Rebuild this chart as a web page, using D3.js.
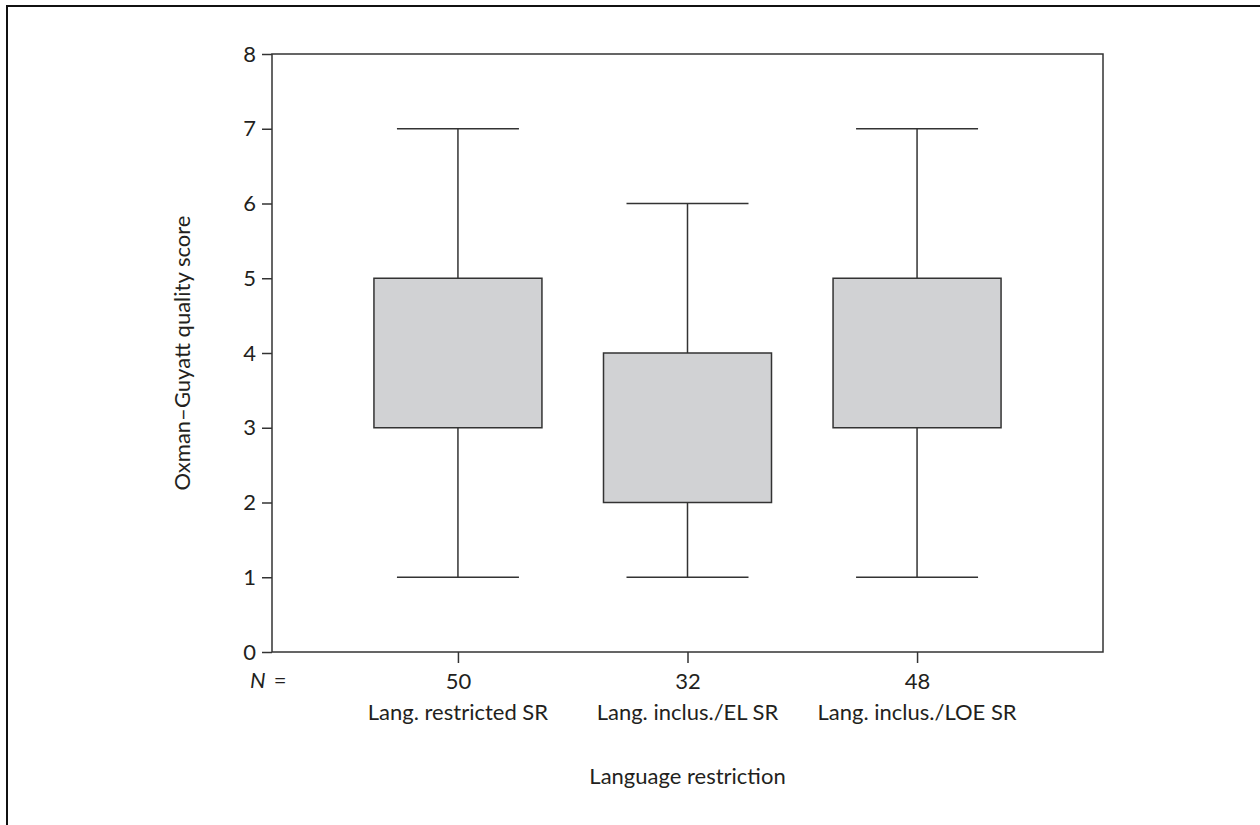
<!DOCTYPE html>
<html>
<head>
<meta charset="utf-8">
<script src="https://cdn.jsdelivr.net/npm/d3@7"></script>
<style>
  body { margin: 0; background: #fff; }
  text { font-family: Lato, "Open Sans", sans-serif; fill: #231f20; }
</style>
</head>
<body>
<div class="canvas"></div>
<script>
// data
const groups = ["Lang. restricted SR", "Lang. inclus./EL SR", "Lang. inclus./LOE SR"];
const counts = [50, 32, 48];
const mins = [1, 1, 1];
const q1s = [3, 2, 3];
const q3s = [5, 4, 5];
const maxs = [7, 6, 7];
const yTicks = [0, 1, 2, 3, 4, 5, 6, 7, 8];

const width = 1260, height = 825;
const margin = { top: 54, right: 157, bottom: 173, left: 272 };
const graphWidth = width - margin.left - margin.right;
const graphHeight = height - margin.top - margin.bottom;
const fontSize = "22px";

const svg = d3.select(".canvas")
  .append("svg")
  .attr("width", width)
  .attr("height", height);

// outer frame (top + left only)
svg.append("path")
  .attr("d", `M7,${height} V6 H${width}`)
  .attr("fill", "none")
  .attr("stroke", "#111")
  .attr("stroke-width", 2);

const graph = svg.append("g")
  .attr("transform", `translate(${margin.left}, ${margin.top})`);

const x = d3.scalePoint().domain(groups).range([0, graphWidth]).padding(0.81);
const y = d3.scaleLinear().domain([0, 8]).range([graphHeight, 0]);

const boxW = 168, capW = 122;
const stroke = "#333";

// plot frame
graph.append("rect")
  .attr("width", graphWidth)
  .attr("height", graphHeight)
  .attr("fill", "none")
  .attr("stroke", stroke)
  .attr("stroke-width", 1.5);

// boxes
const boxes = graph.selectAll("g.box")
  .data(groups)
  .enter()
  .append("g")
  .attr("class", "box");

// whiskers
boxes.append("line")
  .attr("x1", d => x(d)).attr("x2", d => x(d))
  .attr("y1", (d, i) => y(maxs[i])).attr("y2", (d, i) => y(q3s[i]))
  .attr("stroke", stroke).attr("stroke-width", 1.5);

boxes.append("line")
  .attr("x1", d => x(d)).attr("x2", d => x(d))
  .attr("y1", (d, i) => y(q1s[i])).attr("y2", (d, i) => y(mins[i]))
  .attr("stroke", stroke).attr("stroke-width", 1.5);

// caps
boxes.append("line")
  .attr("x1", d => x(d) - capW / 2).attr("x2", d => x(d) + capW / 2)
  .attr("y1", (d, i) => y(maxs[i])).attr("y2", (d, i) => y(maxs[i]))
  .attr("stroke", stroke).attr("stroke-width", 1.5);

boxes.append("line")
  .attr("x1", d => x(d) - capW / 2).attr("x2", d => x(d) + capW / 2)
  .attr("y1", (d, i) => y(mins[i])).attr("y2", (d, i) => y(mins[i]))
  .attr("stroke", stroke).attr("stroke-width", 1.5);

boxes.append("rect")
  .attr("x", d => x(d) - boxW / 2)
  .attr("width", boxW)
  .attr("y", (d, i) => y(q3s[i]))
  .attr("height", (d, i) => y(q1s[i]) - y(q3s[i]))
  .attr("fill", "#d1d2d4")
  .attr("stroke", stroke)
  .attr("stroke-width", 1.5);

// axes
const yAxis = d3.axisLeft(y).tickValues(yTicks).tickSize(10).tickPadding(6);
const yAxisGroup = graph.append("g").call(yAxis);
yAxisGroup.select(".domain").remove();
yAxisGroup.selectAll("line").attr("stroke", stroke).attr("stroke-width", 1.5);
yAxisGroup.selectAll("text").style("font-size", fontSize).attr("fill", "#231f20");

const xAxis = d3.axisBottom(x).tickSize(11).tickFormat((d, i) => counts[i]).tickPadding(10);
const xAxisGroup = graph.append("g")
  .attr("transform", `translate(0,${graphHeight})`)
  .call(xAxis);
xAxisGroup.select(".domain").remove();
xAxisGroup.selectAll("line").attr("stroke", stroke).attr("stroke-width", 1.5);
xAxisGroup.selectAll("text").style("font-size", fontSize).attr("fill", "#231f20");

// category names under the counts
graph.selectAll("text.cat")
  .data(groups)
  .enter()
  .append("text")
  .attr("class", "cat")
  .attr("x", d => x(d))
  .attr("y", graphHeight + 68)
  .attr("text-anchor", "middle")
  .style("font-size", fontSize)
  .text(d => d);

// N = label
const nLabel = graph.append("text")
  .attr("x", -22)
  .attr("y", graphHeight + 36)
  .style("font-size", fontSize)
  .attr("xml:space", "preserve");
nLabel.append("tspan").attr("font-style", "italic").text("N");
nLabel.append("tspan").attr("dx", 8).text("=");

// axis titles
graph.append("text")
  .attr("x", graphWidth / 2)
  .attr("y", graphHeight + 132)
  .attr("text-anchor", "middle")
  .style("font-size", fontSize)
  .text("Language restriction");

graph.append("text")
  .attr("transform", `translate(-82, ${graphHeight / 2}) rotate(-90)`)
  .attr("text-anchor", "middle")
  .style("font-size", fontSize)
  .text("Oxman–Guyatt quality score");
</script>
</body>
</html>
